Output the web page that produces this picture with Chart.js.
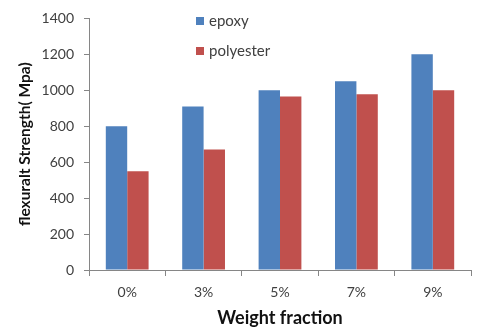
<!DOCTYPE html>
<html>
<head>
<meta charset="utf-8">
<script src="https://cdn.jsdelivr.net/npm/chart.js@4/dist/chart.umd.min.js"></script>
<style>
    html, body { margin: 0; padding: 0; background: #fff; }
    #wrap { width: 480px; height: 336px; position: relative; }
</style>
</head>
<body>
<div id="wrap"><canvas id="barChart" width="480" height="336"></canvas></div>
<script>
var categories = ['0%', '3%', '5%', '7%', '9%'];
var epoxyValues = [800, 910, 1000, 1050, 1200];
var polyesterValues = [550, 670, 965, 978, 1000];
var yTicks = [0, 200, 400, 600, 800, 1000, 1200, 1400];

var fontFamily = "Lato, 'Open Sans', 'Liberation Sans', sans-serif";
var textColor = '#404040';
var axisColor = '#868686';

// legend sits inside the plot, top middle, like the original
var insideLegend = {
    id: 'insideLegend',
    afterDraw: function (chart) {
        var ctx = chart.ctx;
        var items = chart.data.datasets;
        ctx.save();
        ctx.font = '15px ' + fontFamily;
        ctx.textBaseline = 'middle';
        for (var i = 0; i < items.length; i++) {
            var y = 21 + i * 30;
            ctx.fillStyle = items[i].backgroundColor;
            ctx.fillRect(196, y - 4, 8, 8);
            ctx.fillStyle = textColor;
            ctx.fillText(items[i].label, 209, y);
        }
        ctx.restore();
    }
};

var ctx = document.getElementById('barChart');
var myChart = new Chart(ctx, {
    type: 'bar',
    data: {
        labels: categories,
        datasets: [
            {
                label: 'epoxy',
                data: epoxyValues,
                backgroundColor: '#4F81BD',
                borderWidth: 0
            },
            {
                label: 'polyester',
                data: polyesterValues,
                backgroundColor: '#C0504D',
                borderWidth: 0
            }
        ]
    },
    options: {
        responsive: false,
        animation: false,
        devicePixelRatio: 1,
        datasets: {
            bar: {
                categoryPercentage: 0.56,
                barPercentage: 1
            }
        },
        layout: {
            padding: { top: 11, right: 9, left: 0, bottom: 0 }
        },
        plugins: {
            legend: { display: false },
            tooltip: { enabled: false }
        },
        scales: {
            x: {
                grid: {
                    display: true,
                    drawOnChartArea: false,
                    drawTicks: true,
                    tickLength: 6,
                    color: axisColor,
                    offset: true
                },
                border: { display: true, color: axisColor, width: 1 },
                ticks: {
                    color: textColor,
                    padding: 8,
                    font: { family: fontFamily, size: 14 }
                },
                title: {
                    display: true,
                    text: 'Weight fraction',
                    color: '#111',
                    padding: { top: 0, bottom: 7 },
                    font: { family: fontFamily, size: 18, weight: 'bold' }
                },
                afterFit: function (scale) { scale.height = 66; }
            },
            y: {
                min: 0,
                max: 1400,
                afterBuildTicks: function (scale) {
                    scale.ticks = yTicks.map(function (v) { return { value: v }; });
                },
                grid: {
                    display: true,
                    drawOnChartArea: false,
                    drawTicks: true,
                    tickLength: 5,
                    color: axisColor
                },
                border: { display: true, color: axisColor, width: 1 },
                ticks: {
                    color: textColor,
                    padding: 10,
                    autoSkip: false,
                    font: { family: fontFamily, size: 14 },
                    callback: function (value) { return String(value); }
                },
                title: {
                    display: true,
                    text: 'flexuralt Strength( Mpa)',
                    color: '#111',
                    padding: { top: 16, bottom: 0 },
                    font: { family: fontFamily, size: 15.5, weight: 'bold' }
                },
                afterFit: function (scale) { scale.width = 89; }
            }
        }
    },
    plugins: [insideLegend]
});
</script>
</body>
</html>
